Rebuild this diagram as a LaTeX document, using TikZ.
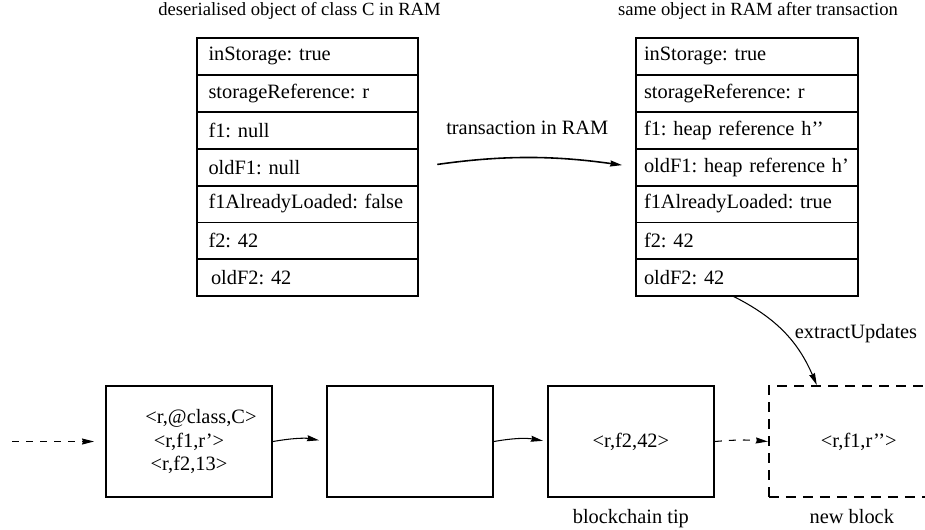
\documentclass[tikz,border=0pt]{standalone}
\usepackage{fontspec}
\setmainfont{Liberation Serif}
\usetikzlibrary{arrows.meta, positioning}
\frenchspacing

\begin{document}
\begin{tikzpicture}[
  node distance=1.06cm,
  every node/.style={font=\fontsize{11.6}{13.4}\selectfont},
  title/.style={font=\fontsize{10.6}{12.5}\selectfont},
  field/.style={rectangle, draw, line width=0.5pt, text width=4.12cm, inner xsep=0.15cm, minimum height=0.72cm, align=left, anchor=north},
  block/.style={rectangle, draw, line width=1.1pt, minimum width=3.32cm, minimum height=2.22cm, align=center},
  newblock/.style={block, dash pattern=on 0.2cm off 0.14cm},
  link/.style={-{Stealth[length=0.24cm, width=0.12cm, inset=0.02cm]}, line width=0.6pt},
]
\useasboundingbox (0,0) rectangle (18.5,-10.58);

\node[field] (l1) at (6.15,-0.76) {\hspace{0.08cm}inStorage: true};
\node[field, below=0pt of l1] (l2) {\hspace{0.08cm}storageReference: r};
\node[field, below=0pt of l2] (l3) {\hspace{0.08cm}f1: null};
\node[field, below=0pt of l3] (l4) {\hspace{0.08cm}oldF1: null};
\node[field, below=0pt of l4] (l5) {\hspace{0.08cm}f1AlreadyLoaded: false};
\node[field, below=0pt of l5] (l6) {\hspace{0.08cm}f2: 42};
\node[field, below=0pt of l6] (l7) {\hspace{0.13cm}oldF2: 42};
\draw[line width=1.1pt] (l1.north west) rectangle (l7.south east);
\node[title, above=0.25cm of l1, xshift=-0.16cm] (ltitle) {deserialised object of class C in RAM};

\node[field] (r1) at (14.94,-0.76) {inStorage: true};
\node[field, below=0pt of r1] (r2) {storageReference: r};
\node[field, below=0pt of r2] (r3) {f1: heap reference h’’};
\node[field, below=0pt of r3] (r4) {oldF1: heap reference h’};
\node[field, below=0pt of r4] (r5) {f1AlreadyLoaded: true};
\node[field, below=0pt of r5] (r6) {f2: 42};
\node[field, below=0pt of r6] (r7) {oldF2: 42};
\draw[line width=1.1pt] (r1.north west) rectangle (r7.south east);
\node[title, above=0.25cm of r1, xshift=0.22cm] (rtitle) {same object in RAM after transaction};

\draw[link, line width=0.9pt, shorten <=0.38cm, shorten >=0.28cm] (l4.east) to[bend left=8] node[midway, above=0.34cm] (tx) {transaction in RAM} (r4.west);

\node[block] (b1) at (3.78,-8.83) {\hspace*{0.48cm}<r,@class,C>\\<r,f1,r’>\\<r,f2,13>};
\node[block, right=of b1] (b2) {};
\node[block, right=of b2] (b3) {<r,f2,42>};
\node[newblock, right=of b3] (b4) {\hspace*{0.28cm}<r,f1,r’’>};
\node[below=0.1cm of b3] (tip) {blockchain tip};
\node[below=0.1cm of b4] (nbl) {new block};

\coordinate (src) at (0.24,-8.83);
\draw[link, dash pattern=on 0.14cm off 0.14cm, shorten >=0.22cm] (src) -- (b1.west);
\draw[link, shorten >=0.14cm] (b1.east) to[bend left=10] (b2.west);
\draw[link, shorten >=0.08cm] (b2.east) to[bend left=10] (b3.west);
\draw[link, dash pattern=on 0.14cm off 0.14cm] (b3.east) to[bend left=5] (b4.west);

\draw[link] ([xshift=-0.28cm]r7.south) to[bend left=20] ([xshift=-0.7cm]b4.north);
\node (ext) at (17.12,-6.68) {extractUpdates};

\end{tikzpicture}
\end{document}
